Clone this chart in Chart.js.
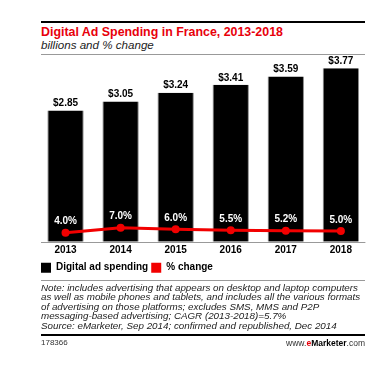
<!DOCTYPE html>
<html>
<head>
<meta charset="utf-8">
<script src="https://cdn.jsdelivr.net/npm/chart.js@4.4.1/dist/chart.umd.min.js"></script>
<style>
  html, body { margin:0; padding:0; background:#fff; }
  body { width:377px; height:365px; position:relative; overflow:hidden; font-family:"Liberation Sans", Arial, sans-serif; }
  .abs { position:absolute; }
  #topRule { left:41px; top:21px; width:324px; height:2px; background:#000; }
  #title { left:41px; top:25px; font-weight:bold; font-size:12.4px; color:#e8000b; white-space:nowrap; }
  #subtitle { left:41px; top:38px; font-style:italic; font-size:11.6px; color:#222; white-space:nowrap; }
  #subRule { left:41px; top:54px; width:324px; height:1px; background:#999; }
  #chartWrap { left:0; top:0; width:377px; height:283px; }
  #noteRule { left:41px; top:280px; width:324px; height:1px; background:#999; }
  #note { left:41px; top:283px; width:330px; font-style:italic; font-size:9.8px; line-height:9.4px; color:#222; white-space:nowrap; }
  #footRule { left:41px; top:334px; width:324px; height:2px; background:#000; }
  #footId { left:41px; top:338px; font-size:8px; color:#333; }
  #footSite { right:12px; top:338px; font-size:8.5px; color:#333; }
  #footSite b { color:#000; }
  #footSite .e { color:#e8000b; }
</style>
</head>
<body>
<div id="topRule" class="abs"></div>
<div id="title" class="abs">Digital Ad Spending in France, 2013-2018</div>
<div id="subtitle" class="abs">billions and % change</div>
<div id="subRule" class="abs"></div>
<div id="chartWrap" class="abs"><canvas id="c" width="377" height="283"></canvas></div>
<div id="noteRule" class="abs"></div>
<div id="note" class="abs">Note: includes advertising that appears on desktop and laptop computers<br>as well as mobile phones and tablets, and includes all the various formats<br>of advertising on those platforms; excludes SMS, MMS and P2P<br>messaging-based advertising; CAGR (2013-2018)=5.7%<br>Source: eMarketer, Sep 2014; confirmed and republished, Dec 2014</div>
<div id="footRule" class="abs"></div>
<div id="footId" class="abs">178366</div>
<div id="footSite" class="abs">www.<b class="e">e</b><b>Marketer</b>.com</div>
<script>
const years = ["2013", "2014", "2015", "2016", "2017", "2018"];
const spending = [2.85, 3.05, 3.24, 3.41, 3.59, 3.77];
const pctChange = [4.0, 7.0, 6.0, 5.5, 5.2, 5.0];
const spendingLabels = ["$2.85", "$3.05", "$3.24", "$3.41", "$3.59", "$3.77"];
const pctLabels = ["4.0%", "7.0%", "6.0%", "5.5%", "5.2%", "5.0%"];
const seriesNames = ["Digital ad spending", "% change"];

const RED = "#f20000";
const FONT = "'Liberation Sans', Arial, sans-serif";

const axisLine = {
  id: 'axisLine',
  beforeDatasetsDraw(chart) {
    const ctx = chart.ctx, ca = chart.chartArea;
    ctx.save();
    ctx.strokeStyle = '#999';
    ctx.lineWidth = 1;
    ctx.beginPath();
    ctx.moveTo(ca.left + 3, Math.round(ca.bottom) + 0.5);
    ctx.lineTo(ca.right - 3, Math.round(ca.bottom) + 0.5);
    ctx.stroke();
    ctx.restore();
  }
};

const valueLabels = {
  id: 'valueLabels',
  afterDatasetsDraw(chart) {
    const ctx = chart.ctx;
    ctx.save();
    ctx.font = "bold 10px " + FONT;
    ctx.textAlign = 'center';
    ctx.textBaseline = 'middle';
    const barMeta = chart.getDatasetMeta(1);
    barMeta.data.forEach((el, i) => {
      ctx.fillStyle = '#000';
      ctx.fillText(spendingLabels[i], el.x, el.y - 7);
    });
    const lineMeta = chart.getDatasetMeta(0);
    lineMeta.data.forEach((el, i) => {
      ctx.fillStyle = '#fff';
      ctx.fillText(pctLabels[i], el.x, el.y - 11);
    });
    ctx.restore();
  }
};

new Chart(document.getElementById('c'), {
  data: {
    labels: years,
    datasets: [
      {
        type: 'line',
        label: seriesNames[1],
        data: pctChange,
        yAxisID: 'y2',
        borderColor: RED,
        backgroundColor: RED,
        borderWidth: 3,
        pointRadius: 4,
        pointBackgroundColor: RED,
        pointBorderWidth: 0,
        tension: 0,
        order: 0
      },
      {
        type: 'bar',
        label: seriesNames[0],
        data: spending,
        yAxisID: 'y',
        backgroundColor: '#000',
        borderColor: '#8a8a8a',
        borderWidth: { left: 1, right: 1, top: 0, bottom: 0 },
        categoryPercentage: 1,
        barPercentage: 0.66,
        order: 1
      }
    ]
  },
  options: {
    responsive: false,
    animation: false,
    devicePixelRatio: 1,
    layout: { padding: { left: 38, right: 8.6, top: 57.7, bottom: 0.3 } },
    plugins: {
      tooltip: { enabled: false },
      legend: {
        position: 'bottom',
        align: 'start',
        labels: {
          boxWidth: 10,
          boxHeight: 10,
          padding: 3,
          color: '#000',
          font: { family: FONT, size: 10, weight: 'bold' },
          generateLabels(chart) {
            return [
              { text: seriesNames[0], fillStyle: '#000', strokeStyle: '#000', lineWidth: 0, datasetIndex: 1 },
              { text: seriesNames[1], fillStyle: RED, strokeStyle: RED, lineWidth: 0, datasetIndex: 0 }
            ];
          }
        }
      }
    },
    scales: {
      x: {
        grid: { display: false, drawTicks: false },
        border: { display: false },
        ticks: { color: '#000', padding: 3, font: { family: FONT, size: 10, weight: 'bold' } }
      },
      y: { display: false, min: 0, max: 4.0 },
      y2: { display: false, min: -1.4, max: 109 }
    }
  },
  plugins: [axisLine, valueLabels]
});
</script>
</body>
</html>
